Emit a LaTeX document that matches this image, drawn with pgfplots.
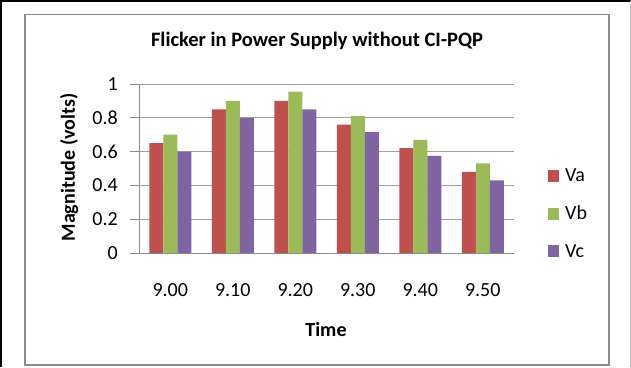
\documentclass[border=0pt]{standalone}
\usepackage{pgfplots}
\pgfplotsset{compat=1.18}
\usepackage{fontspec}
\setmainfont{Carlito}
\definecolor{cVa}{HTML}{C0504D}
\definecolor{cVb}{HTML}{9BBB59}
\definecolor{cVc}{HTML}{8064A2}
\definecolor{gridc}{HTML}{A0A0A0}
\definecolor{framec}{HTML}{8C8C8C}
\begin{document}
\begin{tikzpicture}[x=1pt,y=1pt]
% page extent: pixel (0,0)-(631,367), axis origin at pixel (139,253)
\path[use as bounding box] (-139,-114) rectangle (492,253);
\draw[black, line width=1.6pt] (-138,-114) -- (-138,252) -- (492,252);
\draw[gridc!60, line width=0.8pt] (491.5,252) -- (491.5,-114);
\draw[framec, line width=1.6pt] (-114,-112) rectangle (470,238.5);
\begin{axis}[
  at={(31.25pt,0pt)}, anchor=origin,
  scale only axis, width=375pt, height=169pt,
  xmin=-0.5, xmax=5.5, ymin=0, ymax=1,
  ybar=0pt, bar width=14pt,
  axis x line=bottom, axis y line=left,
  axis line style={-, draw=framec, line width=0.8pt},
  xtick={0,1,2,3,4,5},
  xticklabels={9.00,9.10,9.20,9.30,9.40,9.50},
  major x tick style={draw=none},
  ytick={0,0.2,0.4,0.6,0.8,1},
  yticklabels={0,0.2,0.4,0.6,0.8,1},
  tick align=outside, major tick length=9pt,
  major y tick style={draw=framec, line width=0.8pt},
  ymajorgrids, grid style={gridc, line width=0.8pt},
  ticklabel style={font=\fontsize{20}{24}\selectfont, text=black},
  xticklabel style={anchor=base, inner sep=0pt, yshift=-34.7pt},
  yticklabel style={anchor=east, inner sep=0pt, xshift=-12pt},
  title={\textbf{Flicker in Power Supply without CI-PQP}},
  title style={font=\fontsize{20.5}{24}\selectfont, anchor=base, inner sep=0pt, at={(178pt,200.3pt)}},
  xlabel={\textbf{Time}},
  xlabel style={font=\fontsize{20}{24}\selectfont, anchor=base, inner sep=0pt, at={(187pt,-83pt)}},
  ylabel={\textbf{Magnitude (volts)}},
  ylabel style={font=\fontsize{20}{24}\selectfont, anchor=base, inner sep=0pt, rotate=0, at={(-64pt,85.5pt)}},
  legend style={at={(409pt,39.5pt)}, anchor=west, draw=none, fill=none,
    font=\fontsize{20}{24}\selectfont, row sep=19pt, inner sep=0pt,
    /tikz/every odd column/.append style={column sep=4pt}},
  legend image code/.code={\fill[#1] (0pt,-6pt) rectangle (11pt,6pt);},
  legend cell align=left,
]
\addplot[fill=cVa, draw=none] coordinates {(0,0.65) (1,0.85) (2,0.90) (3,0.76) (4,0.62) (5,0.48)};
\addplot[fill=cVb, draw=none] coordinates {(0,0.70) (1,0.90) (2,0.955) (3,0.81) (4,0.67) (5,0.53)};
\addplot[fill=cVc, draw=none] coordinates {(0,0.60) (1,0.80) (2,0.85) (3,0.715) (4,0.575) (5,0.43)};
\legend{Va,Vb,Vc}
\end{axis}
\end{tikzpicture}
\end{document}
